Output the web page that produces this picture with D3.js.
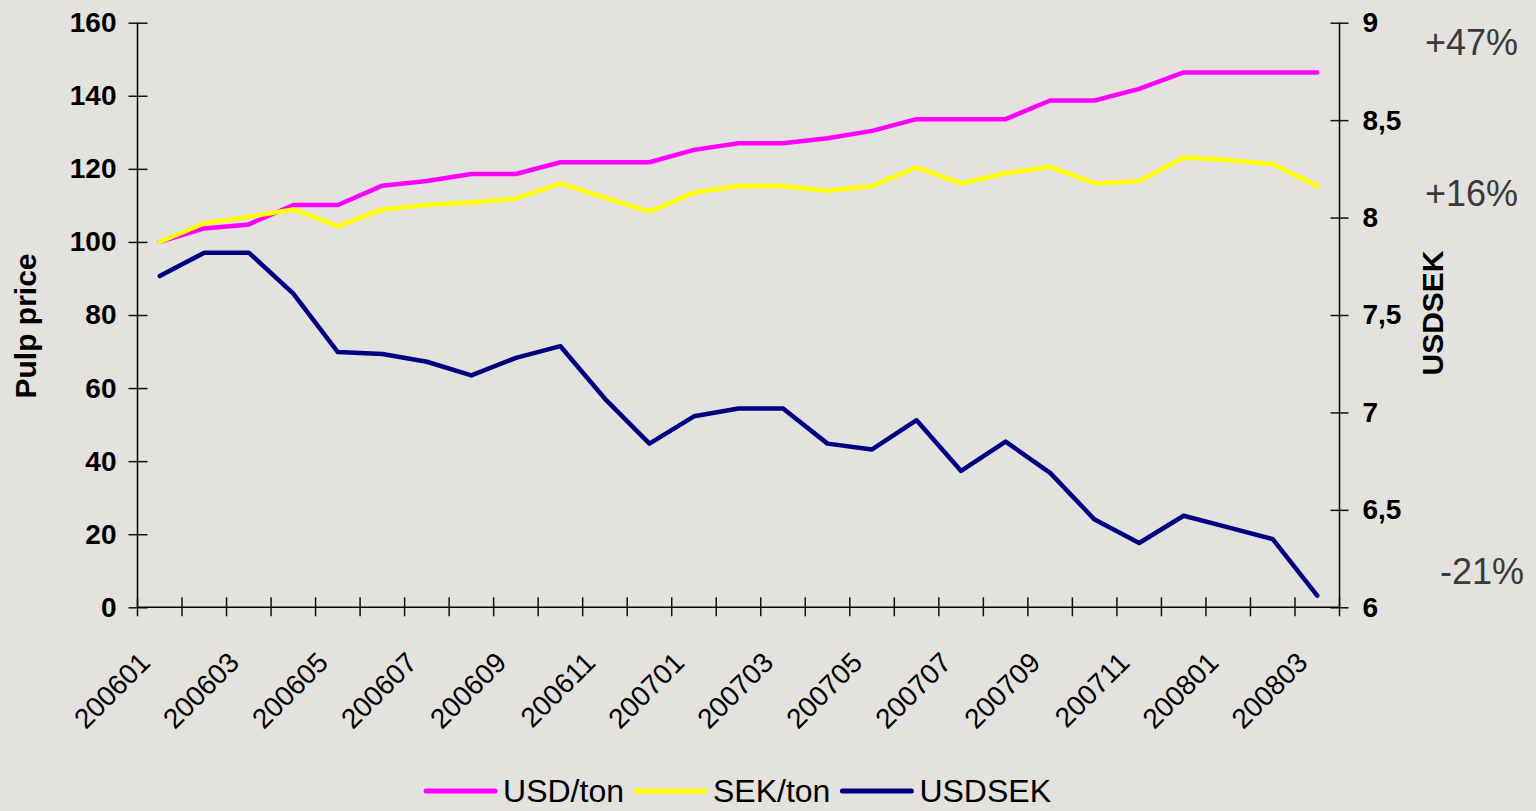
<!DOCTYPE html>
<html>
<head>
<meta charset="utf-8">
<script src="https://cdn.jsdelivr.net/npm/d3@7"></script>
<style>
  html, body { margin: 0; padding: 0; background: #e3e2de; }
  svg { display: block; font-family: "Liberation Sans", Arial, sans-serif; }
</style>
</head>
<body>
<div id="chart"></div>
<script>
// months on the x axis
const months = ["200601","200602","200603","200604","200605","200606","200607","200608","200609",
  "200610","200611","200612","200701","200702","200703","200704","200705","200706","200707",
  "200708","200709","200710","200711","200712","200801","200802","200803"];

// pulp price index (left axis)
const usdTon = [100, 103.7, 104.8, 110.1, 110.1, 115.4, 116.7, 118.6, 118.6, 121.8, 121.8, 121.8,
  125.2, 127.0, 127.0, 128.4, 130.4, 133.6, 133.6, 133.6, 138.7, 138.7, 141.9, 146.4, 146.4, 146.4, 146.4];
const sekTon = [100, 105.1, 106.9, 108.9, 104.3, 108.9, 110.1, 110.8, 111.9, 116.0, 112.1, 108.3,
  113.5, 115.3, 115.3, 114.0, 115.3, 120.4, 116.0, 118.8, 120.6, 116.0, 116.7, 123.1, 122.4, 121.3, 115.3];

// exchange rate (right axis)
const usdSek = [7.70, 7.82, 7.82, 7.61, 7.31, 7.30, 7.26, 7.19, 7.28, 7.34, 7.07, 6.84,
  6.98, 7.02, 7.02, 6.84, 6.81, 6.96, 6.70, 6.85, 6.69, 6.45, 6.33, 6.47, 6.41, 6.35, 6.06];

const leftTicks = [0, 20, 40, 60, 80, 100, 120, 140, 160];
const rightTicks = [6, 6.5, 7, 7.5, 8, 8.5, 9];
const tickMonths = months.filter((m, i) => i % 2 === 0);

const series = [
  { name: "USD/ton", values: usdTon, color: "#ff00ff", axis: "left" },
  { name: "SEK/ton", values: sekTon, color: "#ffff00", axis: "left" },
  { name: "USDSEK", values: usdSek, color: "#000080", axis: "right" }
];

const notes = [
  { text: "+47%", x: 1425, y: 55 },
  { text: "+16%", x: 1425, y: 206 },
  { text: "-21%", x: 1440, y: 584 }
];

const W = 1536, H = 811;
const margin = { top: 22.7, right: 196.5, bottom: 203.7, left: 137.5 };
const width = W - margin.left - margin.right;
const height = H - margin.top - margin.bottom;

const svg = d3.select("#chart").append("svg")
  .attr("width", W)
  .attr("height", H);

svg.append("rect").attr("width", W).attr("height", H).attr("fill", "#e3e2de");

const g = svg.append("g")
  .attr("transform", "translate(" + margin.left + "," + margin.top + ")");

const x = d3.scaleBand().domain(months).range([0, width]).padding(0);
const yL = d3.scaleLinear().domain([0, 160]).range([height, 0]);
const yR = d3.scaleLinear().domain([6, 9]).range([height, 0]);

// lines
series.forEach(s => {
  const y = s.axis === "left" ? yL : yR;
  const line = d3.line()
    .x((d, i) => x(months[i]) + x.bandwidth() / 2)
    .y(d => y(d));
  g.append("path")
    .datum(s.values)
    .attr("fill", "none")
    .attr("stroke", s.color)
    .attr("stroke-width", 4.5)
    .attr("stroke-linejoin", "round")
    .attr("stroke-linecap", "round")
    .attr("d", line);
});

// left axis
g.append("g")
  .call(d3.axisLeft(yL).tickValues(leftTicks).tickSize(9).tickPadding(12))
  .call(a => a.select(".domain").attr("stroke", "#000").attr("stroke-width", 1.5).attr("d", "M0,0V" + height))
  .call(a => a.selectAll(".tick line").attr("x1", -9).attr("x2", 10).attr("stroke", "#111").attr("stroke-width", 1.5))
  .call(a => a.selectAll(".tick text")
    .attr("font-size", 28).attr("font-weight", "bold").attr("fill", "#000")
    .attr("font-family", "Liberation Sans, Arial, sans-serif"));

// right axis
g.append("g")
  .attr("transform", "translate(" + width + ",0)")
  .call(d3.axisRight(yR).tickValues(rightTicks).tickSize(9).tickPadding(14)
    .tickFormat(d => String(d).replace(".", ",")))
  .call(a => a.select(".domain").attr("stroke", "#000").attr("stroke-width", 1.5).attr("d", "M0,0V" + height))
  .call(a => a.selectAll(".tick line").attr("x1", -9).attr("x2", 9).attr("stroke", "#111").attr("stroke-width", 1.5))
  .call(a => a.selectAll(".tick text")
    .attr("font-size", 28).attr("font-weight", "bold").attr("fill", "#000")
    .attr("font-family", "Liberation Sans, Arial, sans-serif"));

// x axis: line, tick marks between categories, rotated labels
const xg = g.append("g").attr("transform", "translate(0," + height + ")");
xg.append("line").attr("x1", 0).attr("x2", width).attr("stroke", "#000").attr("stroke-width", 1.5);
xg.selectAll("line.tick")
  .data(months.map(m => x(m)).concat([width]))
  .join("line")
  .attr("class", "tick")
  .attr("x1", d => d).attr("x2", d => d)
  .attr("y1", -10).attr("y2", 9)
  .attr("stroke", "#111").attr("stroke-width", 1.5);
xg.selectAll("text")
  .data(tickMonths)
  .join("text")
  .attr("transform", d => "translate(" + (x(d) + x.bandwidth() / 2 - 8) + ",57) rotate(-45)")
  .attr("text-anchor", "end")
  .attr("font-size", 28)
  .attr("fill", "#000")
  .text(d => d);

// axis titles
svg.append("text")
  .attr("transform", "translate(36," + 326 + ") rotate(-90)")
  .attr("text-anchor", "middle")
  .attr("font-size", 30).attr("font-weight", "bold")
  .text("Pulp price");

svg.append("text")
  .attr("transform", "translate(1443," + 313 + ") rotate(-90)")
  .attr("text-anchor", "middle")
  .attr("font-size", 30).attr("font-weight", "bold")
  .text("USDSEK");

// change annotations
svg.selectAll("text.note")
  .data(notes)
  .join("text")
  .attr("class", "note")
  .attr("x", d => d.x).attr("y", d => d.y)
  .attr("font-size", 36)
  .attr("fill", "#3a3a3a")
  .text(d => d.text);

// legend, centred under the plot
const legend = svg.append("g");
let lx = 0;
series.forEach(s => {
  legend.append("line")
    .attr("x1", lx).attr("x2", lx + 69)
    .attr("y1", 0).attr("y2", 0)
    .attr("stroke", s.color).attr("stroke-width", 5).attr("stroke-linecap", "round");
  const t = legend.append("text")
    .attr("x", lx + 77).attr("y", 11)
    .attr("font-size", 32)
    .text(s.name);
  lx += 77 + t.node().getComputedTextLength() + 12;
});
lx -= 12;
legend.attr("transform", "translate(" + (margin.left + width / 2 - lx / 2) + ",791)");
</script>
</body>
</html>
